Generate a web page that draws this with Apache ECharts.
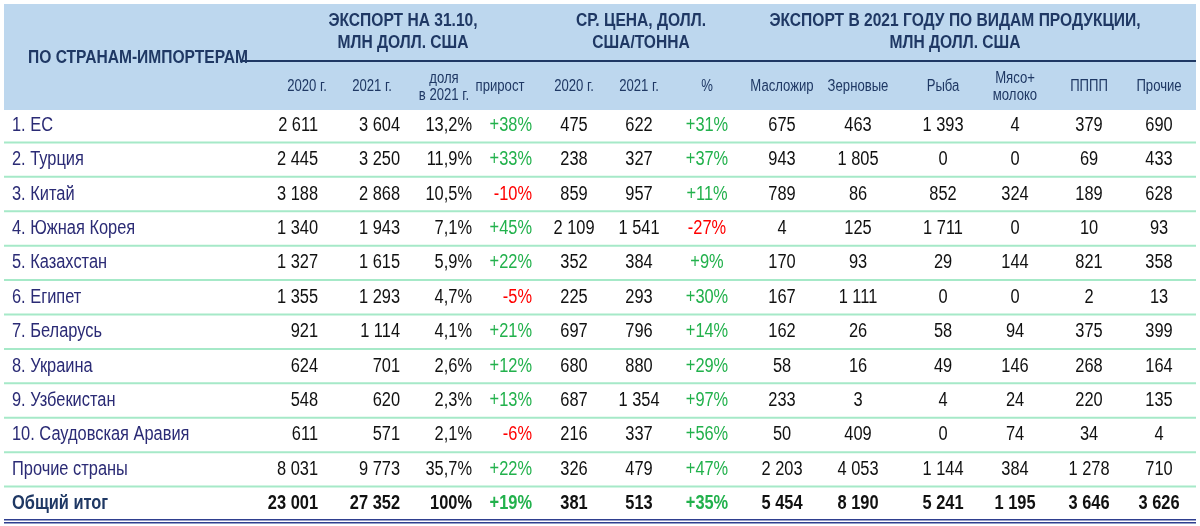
<!DOCTYPE html>
<html><head><meta charset="utf-8">
<script src="https://cdn.jsdelivr.net/npm/echarts@6/dist/echarts.min.js"></script>
<style>html,body{margin:0;padding:0;background:#fff}#c{width:1200px;height:526px}</style>
</head><body><div id="c"></div>
<script>
const countries = ["1. ЕС","2. Турция","3. Китай","4. Южная Корея","5. Казахстан","6. Египет","7. Беларусь","8. Украина","9. Узбекистан","10. Саудовская Аравия","Прочие страны","Общий итог"];
const exp2020 = [2611,2445,3188,1340,1327,1355,921,624,548,611,8031,23001];
const exp2021 = [3604,3250,2868,1943,1615,1293,1114,701,620,571,9773,27352];
const share2021 = [13.2,11.9,10.5,7.1,5.9,4.7,4.1,2.6,2.3,2.1,35.7,100];
const growth = [38,33,-10,45,22,-5,21,12,13,-6,22,19];
const price2020 = [475,238,859,2109,352,225,697,680,687,216,326,381];
const price2021 = [622,327,957,1541,384,293,796,880,1354,337,479,513];
const priceChg = [31,37,11,-27,9,30,14,29,97,56,47,35];
const oilFat = [675,943,789,4,170,167,162,58,233,50,2203,5454];
const grain = [463,1805,86,125,93,1111,26,16,3,409,4053,8190];
const fish = [1393,0,852,1711,29,0,58,49,4,0,1144,5241];
const meatMilk = [4,0,324,0,144,0,94,146,24,74,384,1195];
const pppp = [379,69,189,10,821,2,375,268,220,34,1278,3646];
const other = [690,433,628,93,358,13,399,164,135,4,710,3626];
const groupTitles = ["ЭКСПОРТ НА 31.10,\nМЛН ДОЛЛ. США","СР. ЦЕНА, ДОЛЛ.\nСША/ТОННА","ЭКСПОРТ В 2021 ГОДУ ПО ВИДАМ ПРОДУКЦИИ,\nМЛН ДОЛЛ. США"];
const rowHeader = "ПО СТРАНАМ-ИМПОРТЕРАМ";
const subHeaders = ["2020 г.","2021 г.","доля\nв 2021 г.","прирост","2020 г.","2021 г.","%","Масложир","Зерновые","Рыба","Мясо+\nмолоко","ПППП","Прочие"];

// layout (positions only)
const colX = [318,400,472,532,574,639,707,782,858,943,1015,1089,1159];
const colAlign = ['right','right','right','right','center','center','center','center','center','center','center','center','center'];
const subX = [307,372,444,500,574,639,707,782,858,943,1015,1089,1159];
const groupX = [403,641,955];
const SX = 0.82;

const fmtInt = v => String(v).replace(/\B(?=(\d{3})+(?!\d))/g,' ');
const fmtShare = v => (Number.isInteger(v)? String(v) : v.toFixed(1).replace('.',','))+'%';
const fmtPct = v => (v>0?'+':'')+v+'%';
const GREEN='#22b14c', RED='#ff0000', NAVY='#1f3864';
const columns = [
  {vals:exp2020,f:fmtInt},{vals:exp2021,f:fmtInt},{vals:share2021,f:fmtShare},{vals:growth,f:fmtPct,pct:true},
  {vals:price2020,f:fmtInt},{vals:price2021,f:fmtInt},{vals:priceChg,f:fmtPct,pct:true},
  {vals:oilFat,f:fmtInt},{vals:grain,f:fmtInt},{vals:fish,f:fmtInt},{vals:meatMilk,f:fmtInt},{vals:pppp,f:fmtInt},{vals:other,f:fmtInt}
];
const cells=[];
countries.forEach((c,r)=>{
  cells.push([0,r,-1]);
  columns.forEach((col,ci)=>cells.push([colX[ci],r,ci]));
});
const FONT='"Liberation Sans",Arial,sans-serif';
const nRows=countries.length;

const graphic=[
  {type:'rect',shape:{x:4,y:4,width:1192,height:106},style:{fill:'#bdd7ee'},z:0},
  {type:'rect',shape:{x:240,y:60,width:956,height:2},style:{fill:NAVY},z:1},
  {type:'text',x:138,y:58,scaleX:SX,style:{text:rowHeader,font:'bold 19px '+FONT,fill:NAVY,align:'center',verticalAlign:'middle'},z:2},
  {type:'rect',shape:{x:4,y:519,width:1192,height:1.5},style:{fill:'#2f3f8f'},z:3},
  {type:'rect',shape:{x:4,y:522,width:1192,height:1.5},style:{fill:'#2f3f8f'},z:3}
];
groupTitles.forEach((t,i)=>graphic.push({type:'text',x:groupX[i],y:32,scaleX:SX,style:{text:t,font:'bold 19px '+FONT,fill:NAVY,align:'center',verticalAlign:'middle',lineHeight:22},z:2}));
subHeaders.forEach((t,i)=>graphic.push({type:'text',x:subX[i],y:87,scaleX:SX,style:{text:t,font:'16px '+FONT,fill:NAVY,align:'center',verticalAlign:'middle',lineHeight:17},z:2}));

const chart=echarts.init(document.getElementById('c'));
chart.setOption({
  animation:false,
  grid:{left:0,right:0,top:108,bottom:5},
  xAxis:{type:'value',min:0,max:1200,show:false},
  yAxis:{type:'category',data:countries,inverse:true,show:false},
  graphic:graphic,
  series:[
    {type:'custom',data:countries.map((c,i)=>[0,i]),z:1,
     renderItem:(p,api)=>{
       const r=api.value(1); if(r>=nRows-1) return null;
       const pt=api.coord([0,r]); const h=api.size([0,1])[1];
       return {type:'rect',shape:{x:4,y:pt[1]+h/2-1,width:1192,height:2},style:{fill:'#a6e9c8'}};
     }},
    {type:'custom',data:cells,z:5,
     renderItem:(p,api)=>{
       const x=api.value(0), r=api.value(1), ci=api.value(2);
       const pt=api.coord([x,r]); const total=r===nRows-1;
       if(ci<0){
         return {type:'text',x:12,y:pt[1],scaleX:SX,style:{text:countries[r],font:(total?'bold ':'')+'20px '+FONT,fill:total?NAVY:'#2b2b75',verticalAlign:'middle'}};
       }
       const col=columns[ci]; const v=col.vals[r];
       let fill='#111';
       if(col.pct) fill=v<0?RED:GREEN;
       return {type:'text',x:pt[0],y:pt[1],scaleX:SX,style:{text:col.f(v),font:(total?'bold ':'')+'20px '+FONT,fill:fill,align:colAlign[ci],verticalAlign:'middle'}};
     }}
  ]
});
</script></body></html>
